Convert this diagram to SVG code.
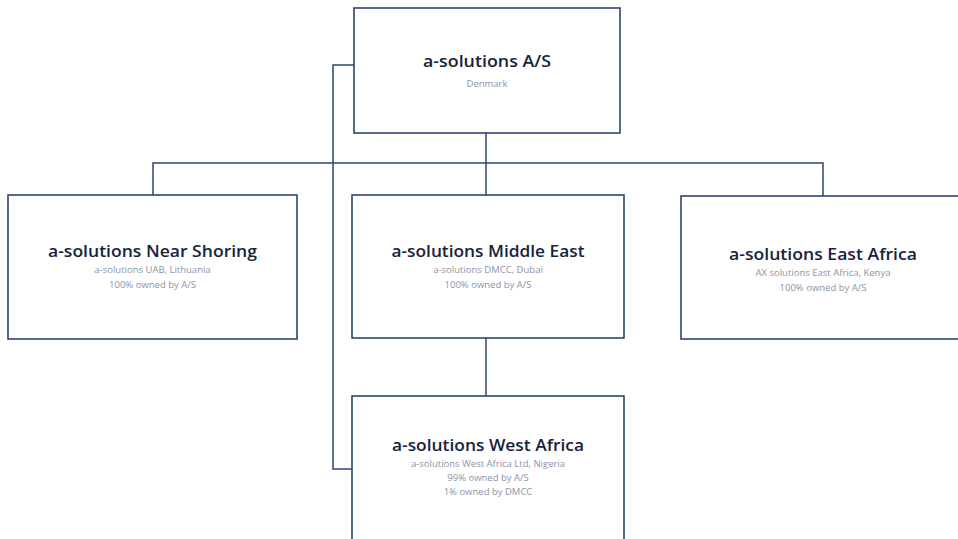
<svg xmlns="http://www.w3.org/2000/svg" width="958" height="539" viewBox="0 0 958 539">
<style>
.box{fill:#ffffff;stroke:#2e4470;stroke-width:1.6}
.line{fill:none;stroke:#2e4470;stroke-width:1.5}
.t{font-family:"Open Sans","Liberation Sans",sans-serif;font-weight:600;font-size:17px;fill:#16233c;text-anchor:middle}
.s{font-family:"Open Sans","Liberation Sans",sans-serif;font-size:9.5px;fill:#8c93a6;text-anchor:middle}
</style>
<rect width="958" height="539" fill="#ffffff"/>
<g id="connectors">
<polyline class="line" points="486,133 486,163"/>
<polyline class="line" points="153,195 153,163 823,163 823,196"/>
<polyline class="line" points="486,163 486,195"/>
<polyline class="line" points="486,338 486,396"/>
<polyline class="line" points="354,65 333,65 333,469 352,469"/>
</g>
<g id="node-as">
<rect class="box" x="354" y="8" width="266" height="125"/>
<text class="t" x="487" y="67" textLength="128" lengthAdjust="spacingAndGlyphs">a-solutions A/S</text>
<text class="s" x="487" y="87">Denmark</text>
</g>
<g id="node-near-shoring">
<rect class="box" x="8" y="195" width="289" height="144"/>
<text class="t" x="152.5" y="257" textLength="209" lengthAdjust="spacingAndGlyphs">a-solutions Near Shoring</text>
<text class="s" x="152.5" y="273">a-solutions UAB, Lithuania</text>
<text class="s" x="152.5" y="288">100% owned by A/S</text>
</g>
<g id="node-middle-east">
<rect class="box" x="352" y="195" width="272" height="143"/>
<text class="t" x="488" y="257" textLength="193" lengthAdjust="spacingAndGlyphs">a-solutions Middle East</text>
<text class="s" x="488" y="273">a-solutions DMCC, Dubai</text>
<text class="s" x="488" y="288">100% owned by A/S</text>
</g>
<g id="node-east-africa">
<rect class="box" x="681" y="196" width="290" height="143"/>
<text class="t" x="823" y="260" textLength="188" lengthAdjust="spacingAndGlyphs">a-solutions East Africa</text>
<text class="s" x="823" y="276">AX solutions East Africa, Kenya</text>
<text class="s" x="823" y="291">100% owned by A/S</text>
</g>
<g id="node-west-africa">
<rect class="box" x="352" y="396" width="272" height="160"/>
<text class="t" x="488" y="451" textLength="192" lengthAdjust="spacingAndGlyphs">a-solutions West Africa</text>
<text class="s" x="488" y="467">a-solutions West Africa Ltd, Nigeria</text>
<text class="s" x="488" y="481">99% owned by A/S</text>
<text class="s" x="488" y="495">1% owned by DMCC</text>
</g>
</svg>
